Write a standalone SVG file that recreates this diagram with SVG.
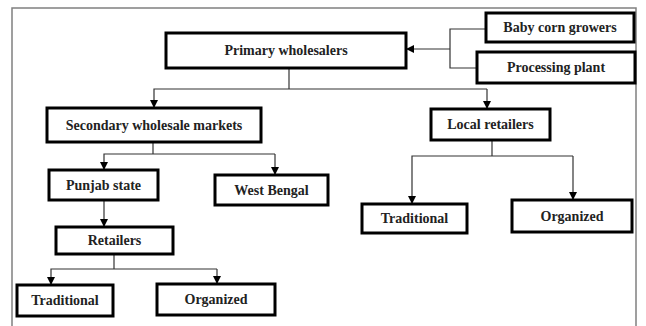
<svg xmlns="http://www.w3.org/2000/svg" width="646" height="326" viewBox="0 0 646 326">
<style>
.box{fill:#fff;stroke:#000;stroke-width:3}
.t{font-family:'Times New Roman','Liberation Serif','DejaVu Serif',serif;font-weight:700;font-size:14px;fill:#222;text-anchor:middle}
.c{fill:none;stroke:#333;stroke-width:1.2}
</style>
<defs>
<marker id="a" viewBox="0 0 10 10" refX="10" refY="5" markerWidth="8" markerHeight="8" markerUnits="userSpaceOnUse" orient="auto">
<path d="M0,0 L10,5 L0,10 z" fill="#000"/>
</marker>
</defs>
<rect width="646" height="326" fill="#fff"/>
<path d="M12,330 V8 H636 V330" fill="none" stroke="#808080" stroke-width="1.5"/>
<g id="connectors">
<path class="c" d="M289,68 V89"/>
<path class="c" d="M487,89 H154 V108" marker-end="url(#a)"/>
<path class="c" d="M487,89 V109" marker-end="url(#a)"/>
<path class="c" d="M486,29 H450 V68 H477"/>
<path class="c" d="M450,49 H406" marker-end="url(#a)"/>
<path class="c" d="M153,142 V154"/>
<path class="c" d="M275,154 H104 V170" marker-end="url(#a)"/>
<path class="c" d="M275,154 V175" marker-end="url(#a)"/>
<path class="c" d="M104,200 V227" marker-end="url(#a)"/>
<path class="c" d="M114,254 V269"/>
<path class="c" d="M217,269 H51 V285" marker-end="url(#a)"/>
<path class="c" d="M217,269 V284" marker-end="url(#a)"/>
<path class="c" d="M492,140 V156"/>
<path class="c" d="M573,156 H412 V204" marker-end="url(#a)"/>
<path class="c" d="M573,156 V200" marker-end="url(#a)"/>
</g>
<g id="primary"><rect class="box" x="166" y="33" width="240" height="35"/><text class="t" x="286" y="55">Primary wholesalers</text></g>
<g id="babycorn"><rect class="box" x="486" y="13" width="148" height="29"/><text class="t" x="560" y="32">Baby corn growers</text></g>
<g id="processing"><rect class="box" x="477" y="52" width="158" height="31"/><text class="t" x="556" y="72">Processing plant</text></g>
<g id="secondary"><rect class="box" x="47" y="108" width="214" height="34"/><text class="t" x="154" y="129.5">Secondary wholesale markets</text></g>
<g id="local"><rect class="box" x="431" y="109" width="119" height="31"/><text class="t" x="490.5" y="129">Local retailers</text></g>
<g id="punjab"><rect class="box" x="49" y="170" width="109" height="30"/><text class="t" x="103.5" y="189.5">Punjab state</text></g>
<g id="westbengal"><rect class="box" x="215" y="175" width="113" height="30"/><text class="t" x="271.5" y="195">West Bengal</text></g>
<g id="retailers"><rect class="box" x="56" y="227" width="117" height="27"/><text class="t" x="114.5" y="245">Retailers</text></g>
<g id="trad1"><rect class="box" x="17" y="285" width="96" height="31"/><text class="t" x="65" y="305">Traditional</text></g>
<g id="org1"><rect class="box" x="157" y="284" width="118" height="31"/><text class="t" x="216" y="304">Organized</text></g>
<g id="trad2"><rect class="box" x="362" y="204" width="105" height="29"/><text class="t" x="414.5" y="223">Traditional</text></g>
<g id="org2"><rect class="box" x="512" y="200" width="120" height="32"/><text class="t" x="572" y="220.5">Organized</text></g>
</svg>
